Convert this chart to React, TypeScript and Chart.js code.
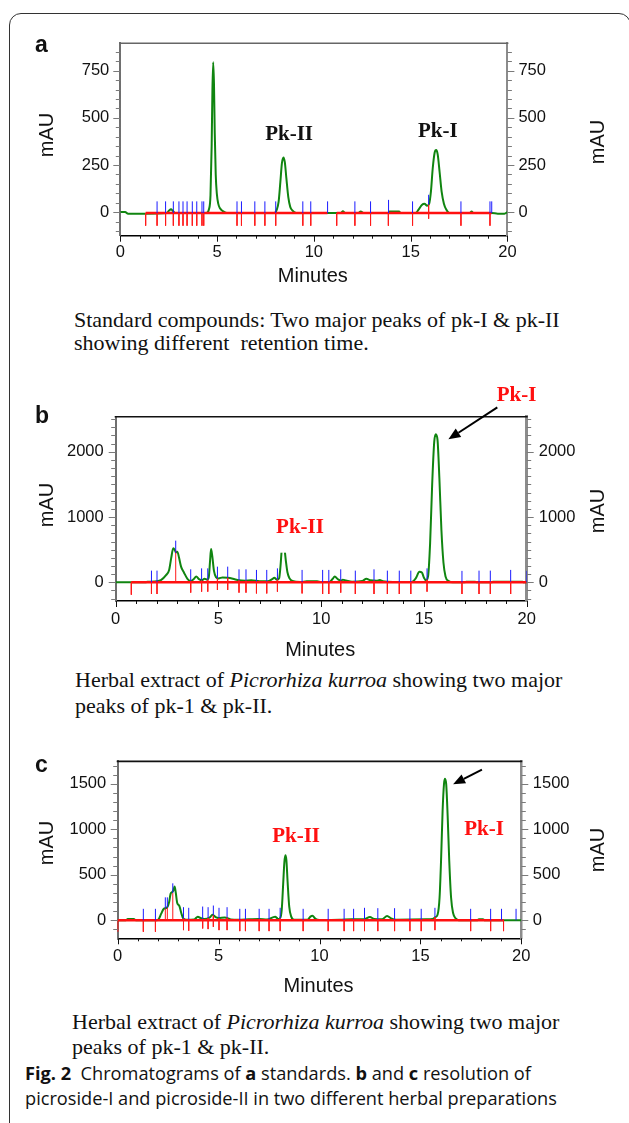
import React, { useEffect, useRef } from "react";
import { Chart, registerables } from "chart.js";

Chart.register(...registerables);

const SANS = '"Liberation Sans", Arial, sans-serif';
const SERIF = '"Liberation Serif", "Times New Roman", serif';

// ---------- axis tick labels ----------
const MINUTE_LABELS = [0, 5, 10, 15, 20];
const A_Y_LABELS = [0, 250, 500, 750];
const B_Y_LABELS = [0, 1000, 2000];
const C_Y_LABELS = [0, 500, 1000, 1500];

// ---------- panel a : standards ----------
const A_TRACE: number[][] = [
  [0, 0], [0.25, 0], [0.4, -8], [1.3, -8], [2.4, -5], [2.52, 8], [2.62, 15], [2.72, 6], [2.85, -5],
  [4.45, -5], [4.58, 15], [4.66, 90], [4.72, 350], [4.76, 650], [4.8, 795], [4.84, 680], [4.88, 420],
  [4.93, 200], [4.99, 95], [5.06, 45], [5.15, 20], [5.3, 5], [5.5, -5],
  [7.95, -5], [8.08, 12], [8.18, 55], [8.27, 160], [8.35, 260], [8.43, 290], [8.5, 265], [8.58, 180],
  [8.68, 80], [8.78, 28], [8.9, 8], [9.1, -5],
  [11.4, -5], [11.5, 4], [11.62, -5], [12.3, -5], [12.42, 3], [12.58, -5], [13.85, -5], [13.92, 3],
  [14.4, 3], [14.5, -5], [15.25, -5], [15.42, 15], [15.58, 38], [15.72, 44], [15.85, 34], [15.95, 42],
  [16.05, 110], [16.14, 230], [16.24, 315], [16.32, 329], [16.4, 305], [16.5, 210], [16.6, 110],
  [16.72, 45], [16.85, 12], [17.0, -5], [18.05, -5], [18.15, 3], [18.25, -5], [19.2, -5], [19.5, -8],
  [19.85, -8], [20, 0],
];
const A_BLUE: number[][] = [
  [1.9, -5, 57], [2.34, -5, 57], [2.74, -5, 57], [3.03, -5, 57], [3.24, -5, 57], [3.45, -5, 57],
  [3.72, -5, 57], [3.95, -5, 57], [4.22, -5, 57], [4.31, -5, 57], [6.03, -5, 57], [6.26, -5, 57],
  [6.95, -5, 57], [7.47, -5, 57], [8.03, -5, 57], [9.43, -5, 57], [9.84, -5, 57], [10.71, -5, 57],
  [12.12, -5, 57], [12.93, -5, 57], [13.86, -5, 65], [15.1, -5, 57], [15.93, 40, 92], [17.6, -5, 57],
  [19.1, -5, 57], [19.19, -5, 57],
];
const A_RED: number[][] = [
  [1.31, -5, -72], [1.9, -5, -72], [2.34, -5, -72], [2.74, -5, -72], [3.03, -5, -72], [3.24, -5, -72],
  [3.45, -5, -72], [3.72, -5, -72], [3.95, -5, -72], [4.22, -5, -72], [4.31, -5, -72], [6.03, -5, -72],
  [6.26, -5, -72], [6.95, -5, -72], [7.47, -5, -72], [8.03, -5, -72], [9.43, -5, -72], [9.84, -5, -72],
  [11.18, -5, -72], [12.12, -5, -72], [12.93, -5, -72], [13.85, -5, -72], [15.1, -5, -72],
  [15.93, 40, -35], [17.6, -5, -72], [19.1, -5, -72],
];
const A_BASELINE: number[][] = [[1.31, 10.71, -5], [11.18, 19.19, -5]];

// ---------- panel b : herbal extract 1 ----------
const B_TRACE: number[][] = [
  [0, 0], [1.45, 0], [1.55, 8], [1.9, 12], [2.2, 35], [2.45, 110], [2.6, 190], [2.7, 370], [2.8, 520],
  [2.87, 500], [2.93, 455], [3.0, 470], [3.08, 380], [3.18, 240], [3.32, 150], [3.5, 50], [3.65, 20],
  [3.8, 50], [3.92, 90], [4.05, 50], [4.2, 30], [4.32, 55], [4.45, 40], [4.53, 80], [4.59, 320],
  [4.64, 510], [4.7, 400], [4.78, 180], [4.88, 80], [5.0, 60], [5.2, 75], [5.45, 70], [5.7, 55],
  [6.0, 30], [6.3, 25], [6.6, 30], [7.0, 15], [7.4, 15], [7.62, 50], [7.72, 70], [7.85, 40], [7.95, 60],
  [8.02, 250], [8.08, 500], [8.15, 650], [8.22, 500], [8.28, 330], [8.36, 150], [8.46, 60], [8.6, 20],
  [9.0, 5], [9.3, 15], [9.8, 15], [10.0, 5], [10.4, 5], [10.55, 50], [10.66, 90], [10.8, 50],
  [10.95, 25], [11.05, 40], [11.2, 30], [11.5, 10], [12.0, 20], [12.2, 55], [12.4, 30], [12.7, 25],
  [12.85, 35], [13.0, 15], [13.5, 5], [14.4, 5], [14.6, 60], [14.78, 160], [14.9, 150], [15.0, 70],
  [15.1, 30], [15.2, 90], [15.3, 600], [15.4, 1500], [15.5, 2150], [15.58, 2266], [15.66, 2180],
  [15.75, 1600], [15.85, 800], [15.95, 300], [16.05, 90], [16.2, 20], [16.4, 0], [17.0, 0], [17.05, 8],
  [17.5, 8], [17.55, 0], [18.3, 0], [18.35, 10], [19.8, 10], [19.85, 0], [20, 0],
];
const B_BLUE: number[][] = [
  [1.74, 0, 179], [2.01, 0, 179], [2.92, 450, 638], [3.65, 20, 199], [4.18, 30, 214], [4.48, 40, 214],
  [4.95, 60, 240], [5.45, 70, 240], [6.0, 30, 199], [6.34, 25, 199], [6.85, 15, 190], [7.35, 15, 190],
  [7.87, 45, 214], [9.07, 5, 190], [10.07, 5, 190], [10.37, 5, 190], [10.95, 25, 199], [11.66, 10, 179],
  [12.57, 25, 199], [13.22, 5, 179], [13.8, 5, 179], [14.36, 5, 179], [15.15, 40, 214], [16.85, 0, 175],
  [17.68, 0, 179], [18.23, 10, 179], [19.22, 10, 190], [20.0, 0, 175],
];
const B_RED: number[][] = [
  [0.76, 0, -190], [1.74, 0, -179], [2.01, 0, -179], [2.92, 0, 495], [3.65, 20, -158], [4.18, 30, -143],
  [4.48, 40, -143], [4.95, 60, -117], [5.45, 70, -117], [6.0, 30, -158], [6.34, 25, -158],
  [6.85, 15, -170], [7.35, 15, -170], [7.87, 45, -143], [9.07, 5, -170], [10.07, 5, -179],
  [10.37, 5, -179], [10.95, 25, -158], [11.66, 10, -179], [12.57, 25, -179], [13.22, 5, -179],
  [13.8, 5, -179], [14.36, 5, -179], [15.15, 40, -143], [16.85, 0, -179], [17.68, 0, -179],
  [18.23, 10, -179], [19.22, 10, -179],
];
const B_BASELINE: number[][] = [[0.76, 20, 0]];

// ---------- panel c : herbal extract 2 ----------
const C_TRACE: number[][] = [
  [0, 0], [0.4, 0], [0.5, 15], [0.8, 15], [0.9, 0], [1.95, 0], [2.05, 20], [2.15, 70], [2.28, 125],
  [2.45, 140], [2.55, 200], [2.62, 290], [2.7, 310], [2.76, 330], [2.82, 370], [2.88, 300], [2.95, 190],
  [3.05, 160], [3.15, 80], [3.25, 20], [3.4, 5], [3.8, 10], [3.97, 40], [4.1, 25], [4.3, 15], [4.55, 30],
  [4.7, 60], [4.85, 35], [5.0, 25], [5.3, 30], [5.6, 10], [6.0, 5], [6.5, 10], [7.0, 15], [7.4, 8],
  [7.8, 40], [7.95, 15], [8.05, 25], [8.13, 120], [8.2, 400], [8.26, 640], [8.31, 715], [8.36, 660],
  [8.42, 420], [8.5, 150], [8.6, 40], [8.75, 5], [9.4, 5], [9.55, 40], [9.65, 50], [9.8, 15], [10.0, 3],
  [11.0, 5], [11.6, 12], [12.2, 12], [12.5, 35], [12.7, 15], [13.1, 10], [13.35, 48], [13.55, 20],
  [13.8, 5], [15.3, 10], [15.6, 15], [15.75, 35], [15.85, 60], [15.95, 250], [16.03, 700], [16.1, 1200],
  [16.17, 1500], [16.22, 1555], [16.28, 1490], [16.35, 1150], [16.43, 650], [16.52, 250], [16.62, 80],
  [16.75, 20], [16.9, 0], [17.8, 0], [17.9, 10], [18.1, 10], [18.2, 0], [20, 0],
];
const C_BLUE: number[][] = [
  [1.27, 0, 126], [1.87, 0, 126], [2.36, 130, 252], [2.46, 140, 252], [2.73, 300, 406], [3.26, 20, 144],
  [3.52, 10, 137], [4.21, 15, 151], [4.48, 25, 144], [4.74, 55, 162], [5.02, 25, 137], [5.42, 30, 144],
  [6.05, 5, 126], [6.33, 8, 126], [7.01, 15, 126], [7.5, 10, 126], [8.05, 20, 137], [9.19, 5, 126],
  [10.43, 5, 126], [11.22, 5, 126], [11.69, 12, 126], [12.23, 12, 137], [12.89, 10, 133],
  [13.72, 8, 133], [14.48, 5, 126], [15.04, 8, 126], [15.72, 35, 137], [17.49, 0, 126], [18.48, 0, 126],
  [19.02, 0, 126], [19.74, 0, 126],
];
const C_RED: number[][] = [
  [0.0, 0, -126], [1.27, 0, -126], [1.87, 0, -126], [2.36, 0, 130], [2.46, 0, 140], [2.73, 0, 300],
  [3.26, 20, -108], [3.52, 10, -115], [4.21, 15, -90], [4.48, 25, -97], [4.74, 55, -72], [5.02, 25, -108],
  [5.42, 30, -108], [6.05, 5, -119], [6.33, 8, -119], [7.01, 15, -119], [7.5, 10, -119], [8.05, 20, -119],
  [9.19, 5, -119], [10.43, 5, -119], [11.22, 5, -119], [11.69, 12, -119], [12.23, 12, -119],
  [12.89, 10, -119], [13.72, 8, -119], [14.48, 5, -119], [15.04, 8, -119], [15.72, 35, -108],
  [17.49, 0, -119], [18.48, 0, -119], [19.12, 0, -119],
];
const C_BASELINE: number[][] = [[0, 19.12, 0]];

type Note = { text: string; x: number; y: number; color: string; box?: boolean };
type Panel = {
  top: number; height: number;
  area: { left: number; right: number; top: number; bottom: number };
  yMin: number; yMax: number; yLabels: number[]; yMinorStep: number;
  trace: number[][]; blue: number[][]; red: number[][]; baseline: number[][];
  letter: string; letterPos: [number, number];
  leftTitle: [number, number]; rightTitle: [number, number]; minutesBaseline: number;
  xPad: number; yPad: number; topColor: string; rightAxisWidth: number;
  notes: Note[]; arrow?: number[];
};

const PANELS: Panel[] = [
  {
    top: 0, height: 300, area: { left: 120.3, right: 507.4, top: 43.3, bottom: 235.7 },
    yMin: -125, yMax: 895, yLabels: A_Y_LABELS, yMinorStep: 50,
    trace: A_TRACE, blue: A_BLUE, red: A_RED, baseline: A_BASELINE,
    letter: "a", letterPos: [35, 52], leftTitle: [47, 135], rightTitle: [598, 142], minutesBaseline: 282,
    xPad: 7, yPad: 11, topColor: "#666", rightAxisWidth: 2,
    notes: [
      { text: "Pk-II", x: 8.72, y: 382, color: "#111" },
      { text: "Pk-I", x: 16.4, y: 400, color: "#111" },
    ],
  },
  {
    top: 360, height: 305, area: { left: 115.7, right: 526.7, top: 416.7, bottom: 601 },
    yMin: -286, yMax: 2536, yLabels: B_Y_LABELS, yMinorStep: 125,
    trace: B_TRACE, blue: B_BLUE, red: B_RED, baseline: B_BASELINE,
    letter: "b", letterPos: [35, 423], leftTitle: [47, 505], rightTitle: [598, 511], minutesBaseline: 656,
    xPad: 9, yPad: 12, topColor: "#111", rightAxisWidth: 3,
    notes: [
      { text: "Pk-II", x: 8.97, y: 760, color: "#ff1010", box: true },
      { text: "Pk-I", x: 19.51, y: 2781, color: "#ff1010" },
    ],
    arrow: [18.57, 2680, 16.19, 2190],
  },
  {
    top: 740, height: 262, area: { left: 117.7, right: 521.3, top: 758.3, bottom: 938.3 },
    yMin: -198, yMax: 1746, yLabels: C_Y_LABELS, yMinorStep: 100,
    trace: C_TRACE, blue: C_BLUE, red: C_RED, baseline: C_BASELINE,
    letter: "c", letterPos: [35, 772], leftTitle: [47, 843], rightTitle: [598, 850], minutesBaseline: 991.7,
    xPad: 8.5, yPad: 11.5, topColor: "#111", rightAxisWidth: 2.5,
    notes: [
      { text: "Pk-II", x: 8.84, y: 864, color: "#ff1010" },
      { text: "Pk-I", x: 18.15, y: 936, color: "#ff1010" },
    ],
    arrow: [18.05, 1655, 16.62, 1494],
  },
];

function tickSegments(segs: number[][]) {
  const out: any[] = [];
  for (const [x, y0, y1] of segs) out.push({ x, y: y0 }, { x, y: y1 }, { x, y: null });
  return out;
}
function baselineSegments(segs: number[][]) {
  const out: any[] = [];
  for (const [x0, x1, y] of segs) out.push({ x: x0, y }, { x: x1, y }, { x: x1, y: null });
  return out;
}

function ChromPanel({ p }: { p: Panel }) {
  const ref = useRef<HTMLCanvasElement>(null);
  useEffect(() => {
    const canvas = ref.current!;
    const W = 629;
    const a = p.area;
    const off = p.top;
    const yMinorStart = Math.ceil(p.yMin / p.yMinorStep) * p.yMinorStep;

    const decor = {
      id: "decor" + p.letter,
      afterDraw(chart: any) {
        const ctx: CanvasRenderingContext2D = chart.ctx;
        const { left, right, top, bottom } = chart.chartArea;
        const xs = chart.scales.x;
        const ys = chart.scales.y;
        const line = (x0: number, y0: number, x1: number, y1: number) => {
          ctx.beginPath(); ctx.moveTo(x0, y0); ctx.lineTo(x1, y1); ctx.stroke();
        };
        ctx.save();
        // top frame line
        ctx.strokeStyle = p.topColor; ctx.lineWidth = 1.6;
        line(left - 1, top, right + 1, top);
        // x ticks
        ctx.strokeStyle = "#111"; ctx.lineWidth = 1;
        for (let m = 0; m <= 20; m++) {
          const px = Math.round(xs.getPixelForValue(m)) + 0.5;
          line(px, bottom, px, bottom + (m % 5 === 0 ? 6 : 3));
        }
        // y ticks on both sides
        ctx.strokeStyle = "#7a7a7a";
        for (let v = yMinorStart; v <= p.yMax; v += p.yMinorStep) {
          const py = Math.round(ys.getPixelForValue(v)) + 0.5;
          const len = p.yLabels.includes(v) ? 6 : 3.5;
          line(left - 1 - len, py, left, py);
          line(right, py, right + 1 + len, py);
        }
        ctx.fillStyle = "#111";
        // panel letter
        ctx.font = `bold 23px ${SANS}`;
        ctx.textAlign = "left"; ctx.textBaseline = "alphabetic";
        ctx.fillText(p.letter, p.letterPos[0], p.letterPos[1] - off);
        // x title
        ctx.font = `20px ${SANS}`;
        ctx.textAlign = "center";
        ctx.fillText("Minutes", (left + right) / 2 - 1, p.minutesBaseline - off);
        // y titles (both read bottom to top)
        for (const [tx, ty] of [p.leftTitle, p.rightTitle]) {
          ctx.save();
          ctx.translate(tx, ty - off);
          ctx.rotate(-Math.PI / 2);
          ctx.textAlign = "center"; ctx.textBaseline = "middle";
          ctx.fillText("mAU", 0, 0);
          ctx.restore();
        }
        // peak labels
        ctx.font = `bold 21px ${SERIF}`;
        ctx.textAlign = "center"; ctx.textBaseline = "alphabetic";
        for (const n of p.notes) {
          const px = xs.getPixelForValue(n.x);
          const py = ys.getPixelForValue(n.y);
          if (n.box) {
            ctx.fillStyle = "#fff";
            ctx.fillRect(px - 32, py - 24, 64, 44);
          }
          ctx.fillStyle = n.color;
          ctx.fillText(n.text, px, py);
        }
        // arrow
        if (p.arrow) {
          const x0 = xs.getPixelForValue(p.arrow[0]);
          const y0 = ys.getPixelForValue(p.arrow[1]);
          const x1 = xs.getPixelForValue(p.arrow[2]);
          const y1 = ys.getPixelForValue(p.arrow[3]);
          const ang = Math.atan2(y1 - y0, x1 - x0);
          const hl = 12, hw = 5;
          const bx = x1 - hl * Math.cos(ang), by = y1 - hl * Math.sin(ang);
          ctx.strokeStyle = "#000"; ctx.lineWidth = 2;
          line(x0, y0, bx, by);
          ctx.fillStyle = "#000";
          ctx.beginPath();
          ctx.moveTo(x1, y1);
          ctx.lineTo(bx + hw * Math.sin(ang), by - hw * Math.cos(ang));
          ctx.lineTo(bx - hw * Math.sin(ang), by + hw * Math.cos(ang));
          ctx.closePath(); ctx.fill();
        }
        ctx.restore();
      },
    };

    const tickFont = { family: SANS, size: 16.5 };
    const yScale = (pos: "left" | "right") => ({
      type: "linear",
      position: pos,
      min: p.yMin,
      max: p.yMax,
      grid: { display: false, drawTicks: false },
      border: {
        display: true,
        color: pos === "left" ? "#6f6f6f" : "#8c8c8c",
        width: pos === "left" ? 2 : p.rightAxisWidth,
      },
      ticks: { padding: p.yPad, font: tickFont, color: "#111", callback: (v: any) => String(v) },
      afterBuildTicks: (s: any) => { s.ticks = p.yLabels.map((v) => ({ value: v })); },
      afterFit: (s: any) => { s.width = pos === "left" ? a.left : W - a.right; },
    });

    const chart = new Chart(canvas, {
      type: "line",
      data: {
        datasets: [
          {
            data: tickSegments(p.blue), borderColor: "#1a1aff", borderWidth: 1,
            pointRadius: 0, spanGaps: false, order: 1, xAxisID: "x", yAxisID: "y",
          },
          {
            data: tickSegments(p.red), borderColor: "#ff1a1a", borderWidth: 1,
            pointRadius: 0, spanGaps: false, order: 2, xAxisID: "x", yAxisID: "y",
          },
          {
            data: baselineSegments(p.baseline), borderColor: "#ff1010", borderWidth: 2.5,
            pointRadius: 0, spanGaps: false, order: 3, xAxisID: "x", yAxisID: "y",
          },
          {
            data: p.trace.map(([x, y]) => ({ x, y })), borderColor: "#108510", borderWidth: 2,
            pointRadius: 0, cubicInterpolationMode: "monotone", order: 4, xAxisID: "x", yAxisID: "y",
          },
        ],
      } as any,
      options: {
        responsive: false,
        animation: false,
        events: [],
        layout: { padding: { top: a.top - off, left: 0, right: 0, bottom: 0 } },
        plugins: { legend: { display: false }, tooltip: { enabled: false } },
        scales: {
          x: {
            type: "linear", position: "bottom", min: 0, max: 20,
            grid: { display: false, drawTicks: false },
            border: { display: true, color: "#000", width: 1.5 },
            ticks: {
              padding: p.xPad, font: tickFont, color: "#111", maxRotation: 0, autoSkip: false,
              callback: (v: any) => String(v),
            },
            afterBuildTicks: (s: any) => { s.ticks = MINUTE_LABELS.map((v) => ({ value: v })); },
            afterFit: (s: any) => { s.height = p.height - (a.bottom - off); },
          },
          y: yScale("left"),
          y2: yScale("right"),
        },
      } as any,
      plugins: [decor],
    });
    return () => chart.destroy();
  }, [p]);
  return (
    <canvas
      ref={ref}
      width={629}
      height={p.height}
      style={{ position: "absolute", left: 0, top: p.top, width: 629, height: p.height }}
    />
  );
}

const capStyle: React.CSSProperties = {
  position: "absolute",
  font: `22px ${SERIF}`,
  color: "#111",
  whiteSpace: "pre",
};

export default function App() {
  return (
    <div style={{ position: "absolute", left: 0, top: 0, width: 629, height: 1123, overflow: "hidden", background: "#fff" }}>
      <div
        style={{
          position: "absolute", left: 9, top: 13, width: 622, height: 1130, boxSizing: "border-box",
          border: "1.4px solid #333", borderRadius: 12,
        }}
      />
      {PANELS.map((p) => (
        <ChromPanel key={p.letter} p={p} />
      ))}
      <div style={{ ...capStyle, left: 74, top: 308, lineHeight: "23px" }}>
        <div>Standard compounds: Two major peaks of pk-I &amp; pk-II</div>
        <div>showing different  retention time.</div>
      </div>
      <div style={{ ...capStyle, left: 75, top: 666.5, lineHeight: "26px" }}>
        <div>Herbal extract of <i>Picrorhiza kurroa</i> showing two major</div>
        <div>peaks of pk-1 &amp; pk-II.</div>
      </div>
      <div style={{ ...capStyle, left: 72, top: 1009, lineHeight: "25px" }}>
        <div>Herbal extract of <i>Picrorhiza kurroa</i> showing two major</div>
        <div>peaks of pk-1 &amp; pk-II.</div>
      </div>
      <div
        style={{
          position: "absolute", left: 25, top: 1061, font: `18.2px "Open Sans", sans-serif`,
          lineHeight: "25px", color: "#111", whiteSpace: "pre",
        }}
      >
        <div><b>Fig. 2</b>{"  "}Chromatograms of <b>a</b> standards. <b>b</b> and <b>c</b> resolution of</div>
        <div>picroside-I and picroside-II in two different herbal preparations</div>
      </div>
    </div>
  );
}
